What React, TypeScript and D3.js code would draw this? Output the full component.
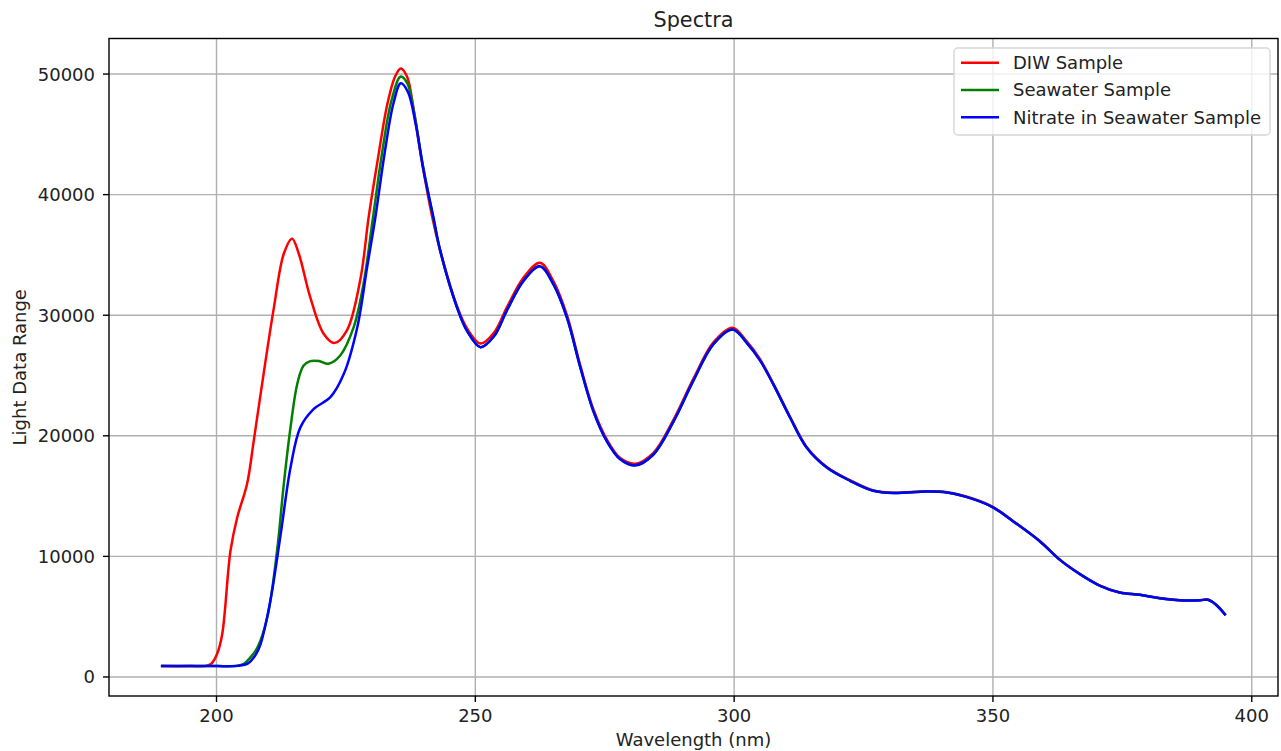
import React, { useEffect, useRef } from 'react';
import * as d3 from 'd3';

// --- Data ---
const diwWavelength = [
	189.5, 195, 198, 199, 200.1, 201.1, 202.7, 204, 205.9, 207.2, 209.1, 211.1,
	213, 214.6, 215.9, 218.1, 220.7, 222.8, 225.2, 227.8, 229.4, 231, 233, 234.5,
	235.6, 236.8, 238, 239.5, 241.6, 243.2, 246.5, 248.4, 251, 253.6, 256.1,
	259.3, 262.5, 265.1, 267.7, 270.3, 272.8, 275.4, 278, 280.9, 284.4, 288.3,
	292.1, 296, 299.7, 302.4, 305, 307.6, 310.8, 314, 317.9, 322.4, 326.9, 330.8,
	337.2, 341.1, 346.2, 350.1, 354, 359.1, 363, 366.8, 370.7, 374.5, 378.4,
	382.2, 386.1, 390, 391.5, 392.5, 393.7, 394.8,
];
const diwValues = [
	900, 900, 920, 1100, 1900, 3550, 10470, 13230, 16000, 19600, 25140, 30670,
	35100, 36350, 35100, 31500, 28460, 27690, 28740, 33000, 38150, 42500, 47500,
	49800, 50470, 49800, 47300, 43200, 38300, 35400, 30700, 28900, 27650, 28550,
	30650, 33100, 34350, 32800, 30000, 25800, 22200, 19700, 18150, 17680, 18580,
	21350, 24700, 27750, 28970, 27850, 26350, 24300, 21580, 19080, 17420, 16320,
	15470, 15280, 15400, 15320, 14780, 14070, 12900, 11250, 9700, 8540, 7570,
	7010, 6820, 6540, 6370, 6370, 6420, 6200, 5750, 5210,
];

const seawaterWavelength = [
	189.5, 195, 200, 204, 205.3, 206.5, 207.9, 209.8, 211.7, 213, 214.3, 215.6,
	216.8, 218.1, 219.8, 221.6, 223.9, 226.5, 228.4, 230.2, 232, 233.8, 235.6,
	236.9, 238.3, 239.8, 241.8, 243.2, 246.5, 248.4, 251, 253.6, 256.1, 259.3,
	262.5, 265.1, 267.7, 270.3, 272.8, 275.4, 278, 280.9, 284.4, 288.3, 292.1,
	296, 299.7, 302.4, 305, 307.6, 310.8, 314, 317.9, 322.4, 326.9, 330.8, 337.2,
	341.1, 346.2, 350.1, 354, 359.1, 363, 366.8, 370.7, 374.5, 378.4, 382.2,
	386.1, 390, 391.5, 392.5, 393.7, 394.8,
];
const seawaterValues = [
	900, 900, 900, 930, 1100, 1600, 2430, 4920, 10470, 16000, 20700, 24300,
	25800, 26190, 26200, 25970, 26660, 29010, 32600, 38000, 43500, 47800, 49800,
	49200, 46500, 42600, 38200, 35380, 30600, 28700, 27350, 28250, 30400, 32850,
	34050, 32550, 29800, 25650, 22050, 19550, 18050, 17550, 18450, 21200, 24550,
	27600, 28820, 27730, 26250, 24250, 21520, 19030, 17370, 16270, 15440, 15250,
	15380, 15300, 14750, 14050, 12880, 11240, 9690, 8530, 7560, 7000, 6810, 6530,
	6360, 6360, 6410, 6190, 5740, 5200,
];

const nitrateWavelength = [
	189.5, 195, 200, 204, 206, 207.5, 208.5, 210.4, 212.4, 214.3, 216.2, 218.8,
	222, 224.6, 227.2, 229.1, 230.7, 232.5, 234.2, 235.6, 237, 238.5, 240, 241.9,
	243.2, 246.5, 248.4, 251, 253.6, 256.1, 259.3, 262.5, 265.1, 267.7, 270.3,
	272.8, 275.4, 278, 280.9, 284.4, 288.3, 292.1, 296, 299.7, 302.4, 305, 307.6,
	310.8, 314, 317.9, 322.4, 326.9, 330.8, 337.2, 341.1, 346.2, 350.1, 354,
	359.1, 363, 366.8, 370.7, 374.5, 378.4, 382.2, 386.1, 390, 391.5, 392.5,
	393.7, 394.8,
];
const nitrateValues = [
	900, 900, 900, 920, 1100, 1800, 2710, 6310, 11850, 17380, 20700, 22230,
	23200, 25140, 29010, 33990, 38150, 43500, 47600, 49230, 48500, 45800, 42000,
	38150, 35380, 30600, 28700, 27350, 28250, 30400, 32850, 34050, 32550, 29800,
	25650, 22050, 19550, 18050, 17550, 18450, 21200, 24550, 27600, 28820, 27730,
	26250, 24250, 21520, 19030, 17370, 16270, 15440, 15250, 15380, 15300, 14750,
	14050, 12880, 11240, 9690, 8530, 7560, 7000, 6810, 6530, 6360, 6360, 6410,
	6190, 5740, 5200,
];

const xTicks = [200, 250, 300, 350, 400];
const yTicks = [0, 10000, 20000, 30000, 40000, 50000];

const seriesNames = ['DIW Sample', 'Seawater Sample', 'Nitrate in Seawater Sample'];
const seriesColors = ['#ff0000', '#008000', '#0000ff'];

interface Point {
	wl: number;
	v: number;
}

const App: React.FC = () => {
	const ref = useRef<SVGSVGElement>(null);

	const W = 1281;
	const H = 751;
	const margin = { top: 38.5, right: 3, bottom: 55, left: 109 };

	useEffect(() => {
		if (!ref.current) return;
		const svg = d3.select(ref.current);
		svg.selectAll('*').remove();

		const font = "'DejaVu Sans', sans-serif";
		const fs = 18;
		const left = margin.left;
		const right = W - margin.right;
		const top = margin.top;
		const bottom = H - margin.bottom;

		// --- Scales ---
		const x = d3.scaleLinear().domain([179.23, 405.07]).range([left, right]);
		const y = d3.scaleLinear().domain([-1578, 52948]).range([bottom, top]);

		svg
			.append('rect')
			.attr('width', W)
			.attr('height', H)
			.attr('fill', '#ffffff');

		// --- Grid ---
		const grid = svg.append('g').attr('stroke', '#b0b0b0').attr('stroke-width', 1.4);
		grid
			.selectAll('.gx')
			.data(xTicks)
			.enter()
			.append('line')
			.attr('x1', (d) => x(d))
			.attr('x2', (d) => x(d))
			.attr('y1', top)
			.attr('y2', bottom);
		grid
			.selectAll('.gy')
			.data(yTicks)
			.enter()
			.append('line')
			.attr('x1', left)
			.attr('x2', right)
			.attr('y1', (d) => y(d))
			.attr('y2', (d) => y(d));

		// --- Lines ---
		const series: Point[][] = [
			diwWavelength.map((wl, i) => ({ wl, v: diwValues[i] })),
			seawaterWavelength.map((wl, i) => ({ wl, v: seawaterValues[i] })),
			nitrateWavelength.map((wl, i) => ({ wl, v: nitrateValues[i] })),
		];
		const line = d3
			.line<Point>()
			.x((d) => x(d.wl))
			.y((d) => y(d.v))
			.curve(d3.curveCatmullRom.alpha(0.5));

		series.forEach((s, i) => {
			svg
				.append('path')
				.datum(s)
				.attr('fill', 'none')
				.attr('stroke', seriesColors[i])
				.attr('stroke-width', 2.5)
				.attr('stroke-linejoin', 'round')
				.attr('stroke-linecap', 'square')
				.attr('d', line);
		});

		// --- Frame ---
		svg
			.append('rect')
			.attr('x', left)
			.attr('y', top)
			.attr('width', right - left)
			.attr('height', bottom - top)
			.attr('fill', 'none')
			.attr('stroke', '#000')
			.attr('stroke-width', 1.4);

		// --- Axes ---
		const xAxis = svg.append('g').attr('font-family', font).attr('font-size', fs);
		xTicks.forEach((t) => {
			xAxis
				.append('line')
				.attr('x1', x(t))
				.attr('x2', x(t))
				.attr('y1', bottom)
				.attr('y2', bottom + 6)
				.attr('stroke', '#000')
				.attr('stroke-width', 1.4);
			xAxis
				.append('text')
				.attr('x', x(t))
				.attr('y', bottom + 26)
				.attr('text-anchor', 'middle')
				.attr('fill', '#222')
				.text(t);
		});

		const yAxis = svg.append('g').attr('font-family', font).attr('font-size', fs);
		yTicks.forEach((t) => {
			yAxis
				.append('line')
				.attr('x1', left - 6)
				.attr('x2', left)
				.attr('y1', y(t))
				.attr('y2', y(t))
				.attr('stroke', '#000')
				.attr('stroke-width', 1.4);
			yAxis
				.append('text')
				.attr('x', left - 14)
				.attr('y', y(t))
				.attr('dy', '0.36em')
				.attr('text-anchor', 'end')
				.attr('fill', '#222')
				.text(t);
		});

		// Axis labels and title
		svg
			.append('text')
			.attr('x', (left + right) / 2)
			.attr('y', 746)
			.attr('text-anchor', 'middle')
			.attr('font-family', font)
			.attr('font-size', fs)
			.attr('fill', '#222')
			.text('Wavelength (nm)');

		svg
			.append('text')
			.attr('transform', `translate(26,${(top + bottom) / 2}) rotate(-90)`)
			.attr('text-anchor', 'middle')
			.attr('font-family', font)
			.attr('font-size', fs)
			.attr('fill', '#222')
			.text('Light Data Range');

		svg
			.append('text')
			.attr('x', (left + right) / 2)
			.attr('y', 27)
			.attr('text-anchor', 'middle')
			.attr('font-family', font)
			.attr('font-size', 20.8)
			.attr('fill', '#222')
			.text('Spectra');

		// --- Legend ---
		const legend = svg.append('g').attr('font-family', font).attr('font-size', fs);
		legend
			.append('rect')
			.attr('x', 954)
			.attr('y', 48)
			.attr('width', 316)
			.attr('height', 87)
			.attr('rx', 4)
			.attr('fill', 'rgba(255,255,255,0.8)')
			.attr('stroke', '#d6d6d6')
			.attr('stroke-width', 1.4);
		seriesNames.forEach((name, i) => {
			const ly = 62.7 + i * 27.3;
			legend
				.append('line')
				.attr('x1', 961)
				.attr('x2', 999)
				.attr('y1', ly)
				.attr('y2', ly)
				.attr('stroke', seriesColors[i])
				.attr('stroke-width', 2.5);
			legend
				.append('text')
				.attr('x', 1013)
				.attr('y', ly)
				.attr('dy', '0.36em')
				.attr('fill', '#222')
				.text(name);
		});
	}, []);

	return (
		<div style={{ position: 'absolute', left: 0, top: 0 }}>
			<svg ref={ref} width={W} height={H}></svg>
		</div>
	);
};

export default App;
